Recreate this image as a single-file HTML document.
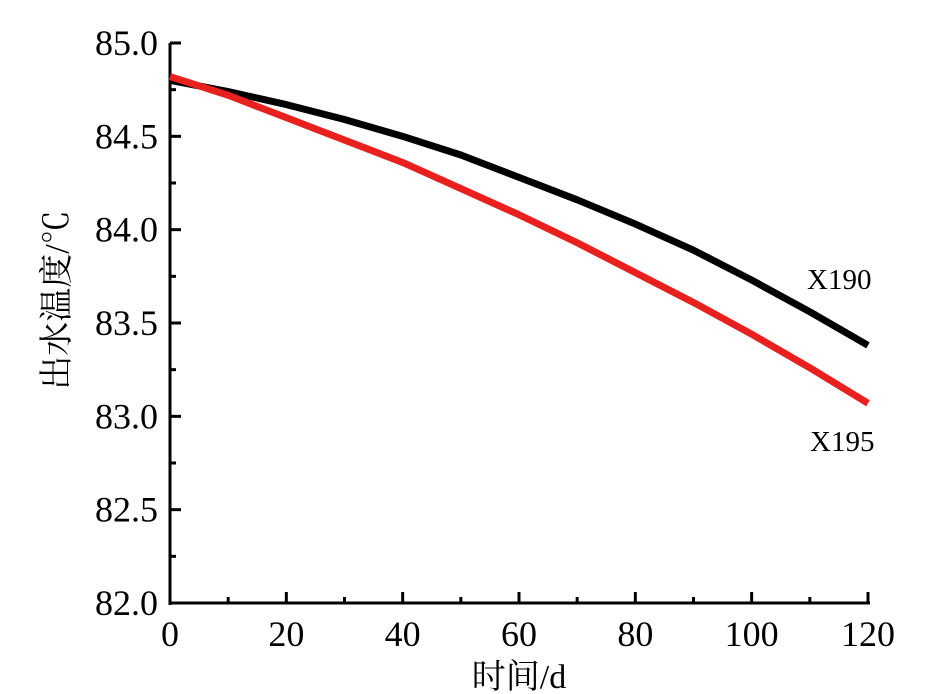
<!DOCTYPE html>
<html><head><meta charset="utf-8"><style>body{margin:0;background:#fff}svg{display:block}text{font-family:"Liberation Serif","Noto Serif CJK SC",serif}</style></head>
<body>
<svg id="c" width="951" height="694"></svg>
<script>
const days=[0,10,20,30,40,50,60,70,80,90,100,110,120];
const x190=[84.80,84.74,84.67,84.59,84.50,84.40,84.28,84.16,84.03,83.89,83.73,83.56,83.38];
const x195=[84.82,84.72,84.60,84.48,84.36,84.22,84.08,83.93,83.77,83.61,83.44,83.26,83.07];
const xTicks=[0,20,40,60,80,100,120];
const yTicks=["82.0","82.5","83.0","83.5","84.0","84.5","85.0"];
const NS="http://www.w3.org/2000/svg",svg=document.getElementById('c');
const X0=170,X1=868,Y0=603,Y1=43;
const sx=v=>X0+(v-0)/120*(X1-X0), sy=v=>Y0-(v-82)/3*(Y0-Y1);
function mk(t,a,p){const e=document.createElementNS(NS,t);for(const k in a)e.setAttribute(k,a[k]);(p||svg).appendChild(e);return e;}
const ax=mk('g',{});


mk('line',{x1:X0,y1:Y1,x2:X0,y2:Y0+2,stroke:'#000','stroke-width':3},ax);
mk('line',{x1:X0-1,y1:Y0,x2:X1+2,y2:Y0,stroke:'#000','stroke-width':3},ax);
for(let v=0;v<=120;v+=10){const big=v%20==0;mk('line',{x1:sx(v),x2:sx(v),y1:Y0,y2:Y0-(big?11:6),stroke:'#000','stroke-width':3},ax);}
xTicks.forEach(v=>{const t=mk('text',{x:sx(v),y:Y0+43,'text-anchor':'middle','font-size':36},ax);t.textContent=v;
});
for(let v=82;v<=85.001;v+=0.25){const big=Math.abs(v*2-Math.round(v*2))<1e-6;mk('line',{x1:X0,x2:X0+(big?11:6),y1:sy(v),y2:sy(v),stroke:'#000','stroke-width':3},ax);}
yTicks.forEach(s=>{const t=mk('text',{x:158,y:sy(+s)+12,'text-anchor':'end','font-size':36},ax);t.textContent=s;
});
const xt=mk('text',{x:519,y:688,'text-anchor':'middle','font-size':34});xt.textContent='时间/d';

const yt=mk('text',{x:0,y:0,'text-anchor':'middle','font-size':34,transform:'translate(68,300) rotate(-90)'});yt.textContent='出水温度/℃';

function series(vals,col,name){const p=mk('polyline',{points:days.map((d,i)=>sx(d)+','+sy(vals[i])).join(' '),fill:'none',stroke:col,'stroke-width':7,'stroke-linejoin':'round'});
}
series(x190,'#000','series-x190');
series(x195,'#e8201e','series-x195');
const l1=mk('text',{x:807,y:289,'font-size':29});l1.textContent='X190';

const l2=mk('text',{x:810,y:451,'font-size':29});l2.textContent='X195';

</script>
</body></html>
